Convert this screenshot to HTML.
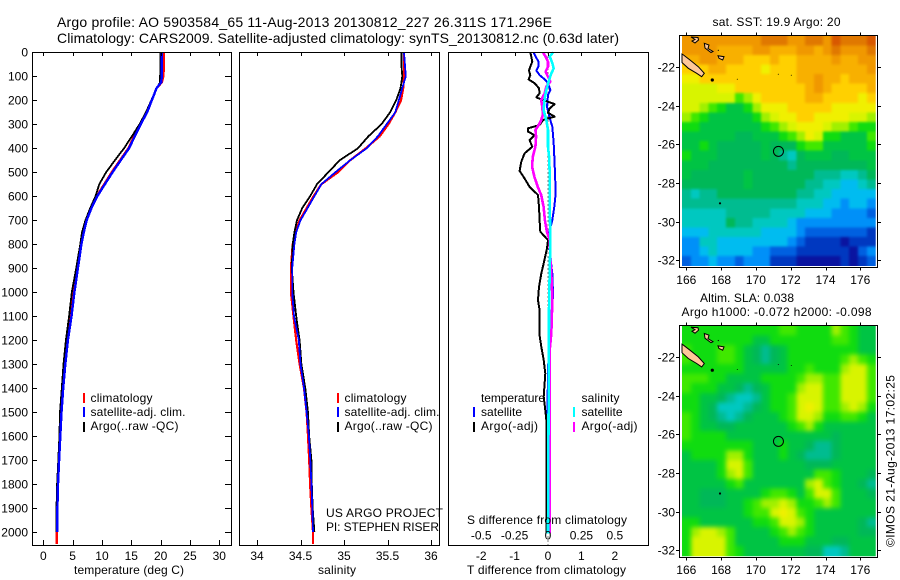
<!DOCTYPE html>
<html lang="en">
<head>
<meta charset="utf-8">
<title>Argo profile chart</title>
<style>
html,body{margin:0;padding:0;background:#fff;}
svg{display:block;font-family:"Liberation Sans",sans-serif;font-size:12px;fill:#000;}
.t14{font-size:14px;}
</style>
</head>
<body>
<svg id="chart" xmlns="http://www.w3.org/2000/svg" width="900" height="580" viewBox="0 0 900 580">
<defs>
<filter id="blur-sst" x="-5%" y="-5%" width="110%" height="110%" color-interpolation-filters="sRGB"><feGaussianBlur stdDeviation="1.3"/></filter>
<filter id="blur-sla" x="-5%" y="-5%" width="110%" height="110%" color-interpolation-filters="sRGB"><feGaussianBlur stdDeviation="2.4"/></filter>
<clipPath id="clip-sst"><rect x="682" y="35.7" width="193.7" height="230.3"/></clipPath>
<clipPath id="clip-sla"><rect x="682" y="326" width="193.7" height="230.3"/></clipPath>
</defs>
<rect x="0" y="0" width="900" height="580" fill="#fff"/>
<text class="t14" x="57" y="27" textLength="495">Argo profile: AO 5903584_65 11-Aug-2013 20130812_227 26.311S 171.296E</text>
<text class="t14" x="57" y="43" textLength="562">Climatology: CARS2009. Satellite-adjusted climatology: synTS_20130812.nc (0.63d later)</text>

<g clip-path="url(#clip-sst)"><g id="heat-sst" filter="url(#blur-sst)"></g></g>
<g clip-path="url(#clip-sla)"><g id="heat-sla" filter="url(#blur-sla)"></g></g>
<g id="layer-land"></g>
<g id="layer-series"></g>
<g id="layer-axes"></g>

<text x="74" y="574" textLength="110">temperature (deg C)</text>
<text x="318" y="574" textLength="38">salinity</text>
<text x="467" y="574" textLength="159">T difference from climatology</text>
<text x="467" y="524" textLength="160">S difference from climatology</text>

<g shape-rendering="crispEdges">
<rect x="83" y="393" width="2" height="10" fill="#ff0000"/>
<rect x="83" y="407" width="2" height="10" fill="#0000ff"/>
<rect x="83" y="422" width="2" height="10" fill="#000"/>
</g>
<text x="90.5" y="402" textLength="62">climatology</text>
<text x="90.5" y="416" textLength="95">satellite-adj. clim.</text>
<text x="90.5" y="430" textLength="88">Argo(..raw -QC)</text>

<g shape-rendering="crispEdges">
<rect x="337" y="393" width="2" height="10" fill="#ff0000"/>
<rect x="337" y="407" width="2" height="10" fill="#0000ff"/>
<rect x="337" y="422" width="2" height="10" fill="#000"/>
</g>
<text x="344.5" y="402" textLength="62">climatology</text>
<text x="344.5" y="416" textLength="95">satellite-adj. clim.</text>
<text x="344.5" y="430" textLength="88">Argo(..raw -QC)</text>
<text x="326" y="517" textLength="117">US ARGO PROJECT</text>
<text x="326" y="531" textLength="113">PI: STEPHEN RISER</text>

<g shape-rendering="crispEdges">
<rect x="473" y="407" width="2" height="10" fill="#0000ff"/>
<rect x="473" y="422" width="2" height="10" fill="#000"/>
<rect x="573" y="407" width="2" height="10" fill="#00ffff"/>
<rect x="573" y="422" width="2" height="10" fill="#ff00ff"/>
</g>
<text x="481" y="402" textLength="64">temperature</text>
<text x="481" y="416" textLength="41">satellite</text>
<text x="481" y="430" textLength="57">Argo(-adj)</text>
<text x="581.5" y="402" textLength="38">salinity</text>
<text x="581.5" y="416" textLength="41">satellite</text>
<text x="581.5" y="430" textLength="56">Argo(-adj)</text>

<text x="712.5" y="26" textLength="128">sat. SST: 19.9 Argo: 20</text>
<text x="700" y="302" textLength="94">Altim. SLA: 0.038</text>
<text x="681.5" y="316" textLength="190">Argo h1000: -0.072 h2000: -0.098</text>
<text transform="translate(894.5,547) rotate(-90)" x="0" y="0" textLength="172">©IMOS 21-Aug-2013 17:02:25</text>
</svg>

<script>
const depthSamples = [0,50,100,125,150,200,250,300,350,400,450,500,550,600,650,700,750,800,900,1000,1100,1200,1300,1400,1500,1600,1700,1800,1900,2000,2050];
const climTemp = [20.57,20.57,20.45,20.2,19.3,18.5,17.6,16.5,15.5,14.5,13.07,11.65,10.4,9.1,8.1,7.4,6.8,6.4,5.8,5.2,4.67,4.0,3.65,3.3,3.0,2.85,2.6,2.5,2.33,2.28,2.28];
const satTemp = [20.2,20.2,20.2,20.1,19.3,18.5,17.7,16.6,15.6,14.6,13.2,11.8,10.5,9.2,8.2,7.4,6.9,6.5,5.9,5.3,4.8,4.2,3.75,3.4,3.1,2.9,2.7,2.5,2.4,2.35];
const argoTemp = [20.0,20.0,19.9,19.9,19.3,18.4,17.5,16.4,15.1,13.75,12.2,10.7,9.55,8.9,8.0,7.2,6.6,6.3,5.6,4.85,4.4,3.85,3.45,3.15,2.85,2.75,2.55,2.35,2.25,2.2];
const climSal = [35.69,35.69,35.69,35.685,35.68,35.655,35.59,35.51,35.41,35.25,35.07,34.93,34.74,34.65,34.57,34.49,34.44,34.41,34.39,34.39,34.42,34.45,34.49,34.54,34.57,34.586,34.6,34.61,34.625,34.644,34.644];
const satSal = [35.69,35.70,35.71,35.69,35.67,35.63,35.59,35.49,35.39,35.26,35.07,34.90,34.74,34.66,34.58,34.50,34.45,34.43,34.405,34.405,34.425,34.48,34.50,34.54,34.57,34.597,34.613,34.625,34.636,34.644];
const argoSal = [35.66,35.66,35.67,35.66,35.65,35.6,35.53,35.43,35.28,35.16,34.95,34.82,34.69,34.61,34.52,34.46,34.43,34.41,34.4,34.42,34.45,34.49,34.51,34.555,34.586,34.6,34.625,34.63,34.64,34.66];

const tDiffArgoDepths = [0,18,39,60,76,95,113,129,150,171,188,199,216,234,252,268,282,303,317,331,345,366,394,421,456,494,526,561,595,644,700,748,783,818,880,922,978,1033,1075,1172,1227,1283,1339,1436,1506,1533,2006];
const tDiffArgo = [-.53,-.50,-.47,-.53,-.57,-.53,-.58,-.40,-.27,-.25,-.35,-.15,.20,.05,0,.20,-.15,-.25,-.60,-.60,-.40,-.55,-.47,-.70,-.80,-.85,-.70,-.55,-.30,-.27,-.25,-.23,0,-.03,-.13,-.20,-.27,-.30,-.25,-.26,-.20,-.13,-.08,-.13,-.07,-.05,-.05];
const tDiffSatDepths = [0,18,39,60,76,95,113,129,157,178,227,282,310,380,435,505,588,644,700,741,783,852,922,1006,1158,1227,1311,1589,2006];
const tDiffSat = [-.43,-.37,-.28,-.29,-.35,-.25,-.10,0,.07,0,-.03,.07,.13,.17,.19,.21,.23,.19,.13,.05,.03,.07,.13,.15,.10,.05,0,-.02,-.05];
const sDiffArgoDepths = [0,18,39,60,81,102,122,143,171,199,227,261,282,303,324,352,394,435,477,519,561,595,644,700,748,783,852,922,1026,1172,1241,1450,2006];
const sDiffArgo = [-.038,-.018,0,0,-.018,0,.018,-.013,-.025,-.051,-.043,-.038,-.051,-.069,-.094,-.089,-.094,-.114,-.119,-.102,-.076,-.051,-.033,-.023,-.008,.013,.018,.025,.033,.025,.013,.013,.013];
const sDiffSatDepths = [0,18,46,67,88,115,157,192,241,282,324,394,435,505,644,783,922,1026,2006];
const sDiffSat = [.038,.013,.033,.043,.025,.008,-.013,-.025,-.033,-.013,0,0,.008,.013,.013,.018,.013,.008,0];

const depthTicks = [0,100,200,300,400,500,600,700,800,900,1000,1100,1200,1300,1400,1500,1600,1700,1800,1900,2000];
const tempTicks = [0,5,10,15,20,25,30];
const salTicks = [34,34.5,35,35.5,36];
const tDiffTicks = [-2,-1,0,1,2];
const sDiffTicks = [-0.5,-0.25,0,0.25,0.5];
const lonTicks = [166,168,170,172,174,176];
const latTicks = [-22,-24,-26,-28,-30,-32];
const floatLon = 171.296;
const floatLat = -26.311;

const sstLevels = [
[16,16,16,16,16,16,16,16,16,17,17,17,16,16,17,17,16,18,17,17,17,18],
[16,16,16,16,15,15,15,15,16,16,15,15,15,16,16,15,16,17,16,16,16,17],
[15,15,16,16,15,15,15,14,14,14,15,14,14,15,15,15,15,16,15,15,16,16],
[14,14,14,15,15,14,14,14,14,13,14,14,14,15,15,15,15,15,15,15,15,16],
[13,13,14,14,14,14,14,14,14,14,14,14,14,15,15,16,15,15,14,15,15,15],
[12,12,12,12,13,13,14,14,14,14,14,14,14,14,15,16,15,14,14,14,14,15],
[12,12,12,12,12,12,10,11,13,14,14,14,14,14,15,15,14,14,14,14,13,14],
[12,12,11,10,9,8,8,9,11,13,13,13,14,14,14,14,14,13,13,13,13,13],
[11,10,9,8,8,8,8,8,9,11,12,13,13,14,14,13,13,13,13,12,12,11],
[9,9,8,8,8,8,8,8,8,9,10,11,12,13,13,13,12,11,11,10,9,9],
[8,8,8,8,8,8,7,7,8,8,8,9,10,11,13,12,9,9,8,8,8,10],
[8,8,9,8,7,7,7,7,7,8,7,7,7,9,10,10,8,8,8,8,8,9],
[9,8,8,8,7,7,7,7,7,8,7,6,5,7,8,8,8,7,7,8,8,8],
[8,8,8,7,7,7,7,7,7,7,7,7,6,7,7,7,7,7,7,7,7,8],
[8,7,7,7,7,7,7,8,7,7,7,7,7,7,7,6,6,6,5,5,6,7],
[7,7,7,7,7,7,7,8,7,7,7,7,7,7,6,6,5,5,4,4,5,6],
[6,5,6,6,7,7,7,7,7,7,7,7,7,6,6,5,5,4,4,4,4,4],
[6,6,6,6,6,6,6,6,6,6,6,6,6,5,5,5,4,4,3,4,4,3],
[5,5,5,5,5,6,6,6,6,6,5,5,5,5,4,4,4,3,3,3,3,2],
[5,5,5,5,5,7,6,6,5,5,5,5,4,3,3,3,3,3,3,3,3,3],
[4,4,4,5,5,5,5,5,5,4,4,4,4,3,2,2,2,2,2,2,2,1],
[3,3,5,5,4,4,4,4,4,4,4,4,3,2,1,1,1,1,0,1,1,1],
[3,3,4,5,4,4,4,4,3,3,2,2,2,1,1,1,1,1,1,0,2,3],
[2,3,3,4,3,3,2,3,3,3,1,1,1,0,0,0,0,0,1,0,1,2]
];
const slaLevels = [
[9,9,9,9,9,9,9,9,9,9,9,10,10,9,9,9,9,11,10,9,8,8],
[9,9,9,9,9,9,9,9,8,8,9,9,9,9,9,9,9,10,10,9,8,8],
[10,9,9,9,10,10,9,8,7,6,7,8,9,9,9,9,9,9,9,9,8,8],
[10,9,9,9,10,10,9,8,7,6,7,8,9,9,9,9,9,9,10,11,10,9],
[9,9,9,9,9,9,9,8,8,8,8,8,9,9,10,9,9,9,11,12,12,10],
[10,10,10,9,9,8,8,8,8,9,9,9,9,10,11,11,10,10,12,12,12,10],
[10,9,9,9,8,8,7,6,7,8,9,9,9,11,12,12,10,10,12,12,12,10],
[9,9,8,8,7,6,5,5,6,8,9,9,10,12,12,12,10,10,12,12,12,10],
[9,9,8,7,5,5,5,6,7,8,9,9,10,12,13,12,10,10,11,12,11,9],
[10,9,8,7,6,5,6,7,8,8,8,9,10,12,12,11,9,9,10,10,9,8],
[10,9,8,8,7,7,8,8,8,8,8,8,9,10,11,9,8,8,8,8,8,8],
[10,9,9,9,9,8,8,8,8,8,8,8,8,8,8,8,8,7,8,8,8,8],
[9,9,9,9,9,9,9,9,8,8,8,9,8,8,7,6,6,7,8,8,8,8],
[8,9,9,9,9,11,11,9,8,8,8,9,8,7,6,6,6,7,8,8,8,8],
[8,8,8,8,9,12,12,10,8,8,8,8,8,8,7,7,7,8,8,8,8,8],
[8,8,8,8,9,11,12,10,8,8,8,8,8,8,8,10,10,9,8,8,8,7],
[8,8,8,8,8,9,10,8,8,8,8,8,8,8,11,12,10,9,8,8,7,6],
[8,8,7,7,7,8,8,8,8,9,10,10,9,8,10,12,12,10,8,8,8,7],
[8,8,7,7,7,8,8,9,10,11,11,12,11,9,9,10,11,10,8,8,8,8],
[8,8,8,8,8,8,8,9,10,10,12,13,12,10,9,8,8,8,8,8,8,8],
[9,9,8,8,8,8,8,8,9,9,10,12,12,11,9,8,8,8,8,8,7,6],
[9,11,12,12,11,10,8,8,8,8,9,10,11,10,9,8,8,8,8,8,7,7],
[9,12,12,12,12,10,8,8,8,8,8,9,9,9,8,8,8,7,7,8,8,8],
[9,12,12,12,12,10,9,8,8,8,8,8,8,8,7,7,5,5,6,8,8,8]
];
const levelColors = ['#0a14a0','#0038c0','#0060e0','#0090f8','#00bcf0','#00c8c0','#00bc90','#00b858','#00c444','#10dc10','#40e800','#a0f000','#d8f400','#f0f000','#ffd000','#f8b000','#f09800','#e07800','#d85800'];

const NS = 'http://www.w3.org/2000/svg';
const axes = document.getElementById('layer-axes');
const seriesLayer = document.getElementById('layer-series');
const landLayer = document.getElementById('layer-land');

const yDepth = d => 52.3 + d * 0.2399;
const xTemp = v => 43.3 + v * 5.867;
const xSal = v => 257 + (v - 34) * 87;
const xTDiff = v => 548 + v * 33.4;
const xSDiff = v => 548 + v * 133.6;
const xLon = v => 686.3 + (v - 166) * 17.4;
const yLat1 = v => 67 + (-22 - v) * 19.33;
const yLat2 = v => 357 + (-22 - v) * 19.33;

function mk(tag, attrs, parent) {
  const el = document.createElementNS(NS, tag);
  for (const k in attrs) el.setAttribute(k, attrs[k]);
  parent.appendChild(el);
  return el;
}
function seg(x1, y1, x2, y2) {
  const el = mk('line', {x1: x1, y1: y1, x2: x2, y2: y2, stroke: '#000', 'stroke-width': 1, 'shape-rendering': 'crispEdges'}, axes);
  
  
}
function label(x, y, txt, anchor) {
  const el = mk('text', {x: x, y: y, 'text-anchor': anchor}, axes);
  el.textContent = txt;
  
  
}
function frame(l, t, r, b) {
  const el = mk('rect', {x: l, y: t, width: r - l, height: b - t, fill: 'none', stroke: '#000', 'stroke-width': 1, 'shape-rendering': 'crispEdges'}, axes);
  
  
}
function profile(depths, values, xFn, color, width, name) {
  const pts = values.map((v, i) => xFn(v).toFixed(1) + ',' + yDepth(depths[i]).toFixed(1)).join(' ');
  const el = mk('polyline', {points: pts, fill: 'none', stroke: color, 'stroke-width': width, 'stroke-linejoin': 'round', 'shape-rendering': 'crispEdges'}, seriesLayer);
  
  
}

/* profile panels */
profile(depthSamples, climTemp, xTemp, '#ff0000', 2.4, 'temperature-climatology-line');
profile(depthSamples, argoTemp, xTemp, '#000000', 1.8, 'temperature-argo-line');
profile(depthSamples, satTemp, xTemp, '#0000ff', 2.4, 'temperature-satellite-line');
profile(depthSamples, climSal, xSal, '#ff0000', 2.2, 'salinity-climatology-line');
profile(depthSamples, argoSal, xSal, '#000000', 1.8, 'salinity-argo-line');
profile(depthSamples, satSal, xSal, '#0000ff', 1.8, 'salinity-satellite-line');

const zeroLine = mk('line', {x1: xTDiff(0), y1: yDepth(0), x2: xTDiff(0), y2: 545, stroke: '#000', 'stroke-width': 1, 'stroke-dasharray': '1 3', 'shape-rendering': 'crispEdges'}, seriesLayer);


profile(tDiffSatDepths, tDiffSat, xTDiff, '#0000ff', 2, 't-diff-satellite-line');
profile(tDiffArgoDepths, tDiffArgo, xTDiff, '#000000', 2, 't-diff-argo-line');
profile(sDiffArgoDepths, sDiffArgo, xSDiff, '#ff00ff', 2.6, 's-diff-argo-line');
profile(sDiffSatDepths, sDiffSat, xSDiff, '#00ffff', 2.6, 's-diff-satellite-line');

/* axes */
frame(32.5, 52.5, 231.5, 545.5);
frame(239.5, 52.5, 439.5, 545.5);
frame(448.5, 52.5, 648.5, 545.5);
depthTicks.forEach(d => {
  const y = Math.round(yDepth(d)) + 0.5;
  seg(32, y, 37, y);
  seg(225, y, 231, y);
  label(28, y + 4.2, String(d), 'end');
});
tempTicks.forEach(v => {
  const x = Math.round(xTemp(v)) + 0.5;
  seg(x, 52, x, 56);
  seg(x, 540, x, 545);
  label(xTemp(v), 560, String(v), 'middle');
});
salTicks.forEach(v => {
  const x = Math.round(xSal(v)) + 0.5;
  seg(x, 52, x, 56);
  seg(x, 540, x, 545);
  label(xSal(v), 560, String(v), 'middle');
});
tDiffTicks.forEach(v => {
  const x = Math.round(xTDiff(v)) + 0.5;
  seg(x, 52, x, 56);
  label(xTDiff(v), 560, String(v), 'middle');
});
sDiffTicks.forEach(v => {
  label(xSDiff(v), 539.5, String(v), 'middle');
});

/* maps: edge cells overdraw the image box so the softening blur does not fade at the clip */
function heatmap(grid, yLat, parent, name) {
  const lon0 = 165.75, lonStep = 0.506, lat0 = -20.38, latStep = 0.496;
  const lastRow = grid.length - 1;
  grid.forEach((row, r) => row.forEach((v, c) => {
    const x1 = xLon(lon0 + c * lonStep) - (c === 0 ? 8 : 0);
    const x2 = xLon(lon0 + (c + 1) * lonStep) + (c === row.length - 1 ? 8 : 0);
    const y1 = yLat(lat0 - r * latStep) - (r === 0 ? 8 : 0);
    const y2 = yLat(lat0 - (r + 1) * latStep) + (r === lastRow ? 8 : 0);
    const el = mk('rect', {x: x1.toFixed(1), y: y1.toFixed(1), width: (x2 - x1 + 0.4).toFixed(1), height: (y2 - y1 + 0.4).toFixed(1), fill: levelColors[v], 'shape-rendering': 'crispEdges'}, parent);
    
    
  }));
}
heatmap(sstLevels, yLat1, document.getElementById('heat-sst'), 'sst-heatmap-cell');
heatmap(slaLevels, yLat2, document.getElementById('heat-sla'), 'sla-heatmap-cell');

const landShapes = [
  '682,54 683.5,55 690,60 698.3,66.7 704.3,73.3 701.7,76.7 696.7,73.3 688.3,68.3 682,62.5',
  '691,37 698,37.5 698.5,40 695,43 692,41 695,39.5',
  '704.3,43.3 709,45 708,48.5 713,51.5 711,52.5 705,48',
  '718,55.7 724,56.7 722.7,60 719,58.3'
];
const landDots = [[712.3,80,1.6],[737.3,79.3,0.5],[778.3,74.3,0.5],[791.3,75.3,0.5],[718.3,50.3,0.6],[720,203.3,1.1]];
function land(dy, suffix) {
  landShapes.forEach(s => {
    const pts = s.split(' ').map(p => { const q = p.split(','); return q[0] + ',' + (parseFloat(q[1]) + dy); }).join(' ');
    const el = mk('polygon', {points: pts, fill: '#ffc898', stroke: '#000', 'stroke-width': 1}, landLayer);
    
    
  });
  landDots.forEach(d => {
    const el = mk('circle', {cx: d[0], cy: d[1] + dy, r: d[2], fill: '#000'}, landLayer);
    
    
  });
}
land(0, 'sst');
land(290.2, 'sla');

function mapAxes(top, bottom, yLat, labelY) {
  frame(679.5, top, 877.5, bottom);
  lonTicks.forEach(v => {
    const x = Math.round(xLon(v)) + 0.5;
    seg(x, top - 3, x, top);
    seg(x, bottom, x, bottom + 3);
    label(xLon(v), labelY, String(v), 'middle');
  });
  latTicks.forEach(v => {
    const y = Math.round(yLat(v)) + 0.5;
    seg(676, y, 679.5, y);
    seg(877.5, y, 881, y);
    label(675, y + 4.2, String(v), 'end');
  });
  const marker = mk('circle', {cx: xLon(floatLon), cy: yLat(floatLat) + 1, r: 5, fill: 'none', stroke: '#000', 'stroke-width': 1}, axes);
  
  
}
mapAxes(35.5, 267.5, yLat1, 284);
mapAxes(325.5, 557.5, yLat2, 574);
</script>
</body>
</html>
